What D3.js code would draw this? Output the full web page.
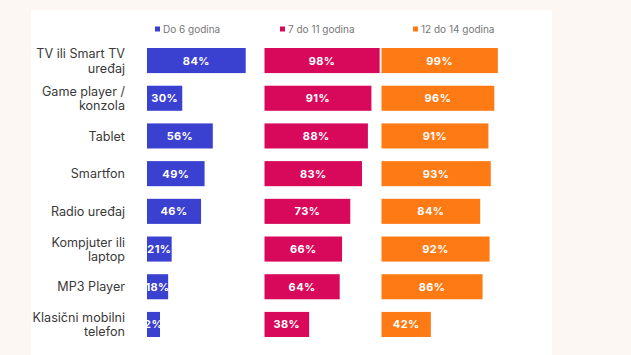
<!DOCTYPE html>
<html><head><meta charset="utf-8">
<script src="https://cdn.jsdelivr.net/npm/d3@7"></script>
<style>
html,body{margin:0;padding:0;background:#fdf7f4;}
svg{display:block;font-family:Inter,Roboto,"Noto Sans",sans-serif;}
</style></head>
<body><svg id="c" width="631" height="355"></svg>
<script>
const categories = [
  ["TV ili Smart TV","uređaj"],
  ["Game player /","konzola"],
  ["Tablet"],
  ["Smartfon"],
  ["Radio uređaj"],
  ["Kompjuter ili","laptop"],
  ["MP3 Player"],
  ["Klasični mobilni","telefon"]
];
const seriesNames = ["Do 6 godina","7 do 11 godina","12 do 14 godina"];
const do6 = [84,30,56,49,46,21,18,2];
const od7do11 = [98,91,88,83,73,66,64,38];
const od12do14 = [99,96,91,93,84,92,86,42];
const colors = ["#3a40d0","#d8085b","#fd7a14"];

const series = [do6, od7do11, od12do14];
const svg = d3.select("#c");

// white panel
svg.append("rect").attr("x",31).attr("y",10).attr("width",521).attr("height",345).attr("fill","#ffffff");

const y = d3.scaleBand().domain(d3.range(categories.length)).range([41.7,343.3]).paddingInner(0.335).paddingOuter(0.1675);
const x = d3.scaleLinear().domain([0,100]).range([0,117.5]);
const panelX = d3.scaleOrdinal().domain([0,1,2]).range([147,264.5,381.5]);
const legendX = [155,280,413];

// legend
seriesNames.forEach((n,i)=>{
  const g = svg.append("g");
  g.append("rect").attr("x",legendX[i]).attr("y",26.5).attr("width",5).attr("height",5).attr("fill",colors[i]);
  g.append("text").attr("x",legendX[i]+8).attr("y",33).attr("font-size",10).attr("fill","#777").text(n);
});

// category labels
categories.forEach((lines,i)=>{
  const cy = y(i)+y.bandwidth()/2;
  const t = svg.append("text").attr("text-anchor","end").attr("font-size",12.6).attr("fill","#3a3a3a");
  if(lines.length===1){
    t.append("tspan").attr("x",125).attr("y",cy+4.6).text(lines[0]);
  } else {
    t.append("tspan").attr("x",125).attr("y",cy-2.5).text(lines[0]);
    t.append("tspan").attr("x",125).attr("y",cy+12).text(lines[1]);
  }
});

// bars
series.forEach((vals,si)=>{
  const g = svg.append("g");
  g.selectAll("rect").data(vals).join("rect")
    .attr("x",panelX(si))
    .attr("y",(d,i)=>y(i))
    .attr("width",d=>Math.max(13,x(d)))
    .attr("height",y.bandwidth())
    .attr("fill",colors[si]);
  g.selectAll("text").data(vals).join("text")
    .attr("x",d=>panelX(si)+Math.max(13,x(d))/2)
    .attr("y",(d,i)=>y(i)+y.bandwidth()/2+4)
    .attr("text-anchor","middle")
    .attr("font-size",11).attr("font-weight","bold").attr("letter-spacing",0.4).attr("fill","#ffffff")
    .text(d=>d+"%");
});
</script></body></html>
